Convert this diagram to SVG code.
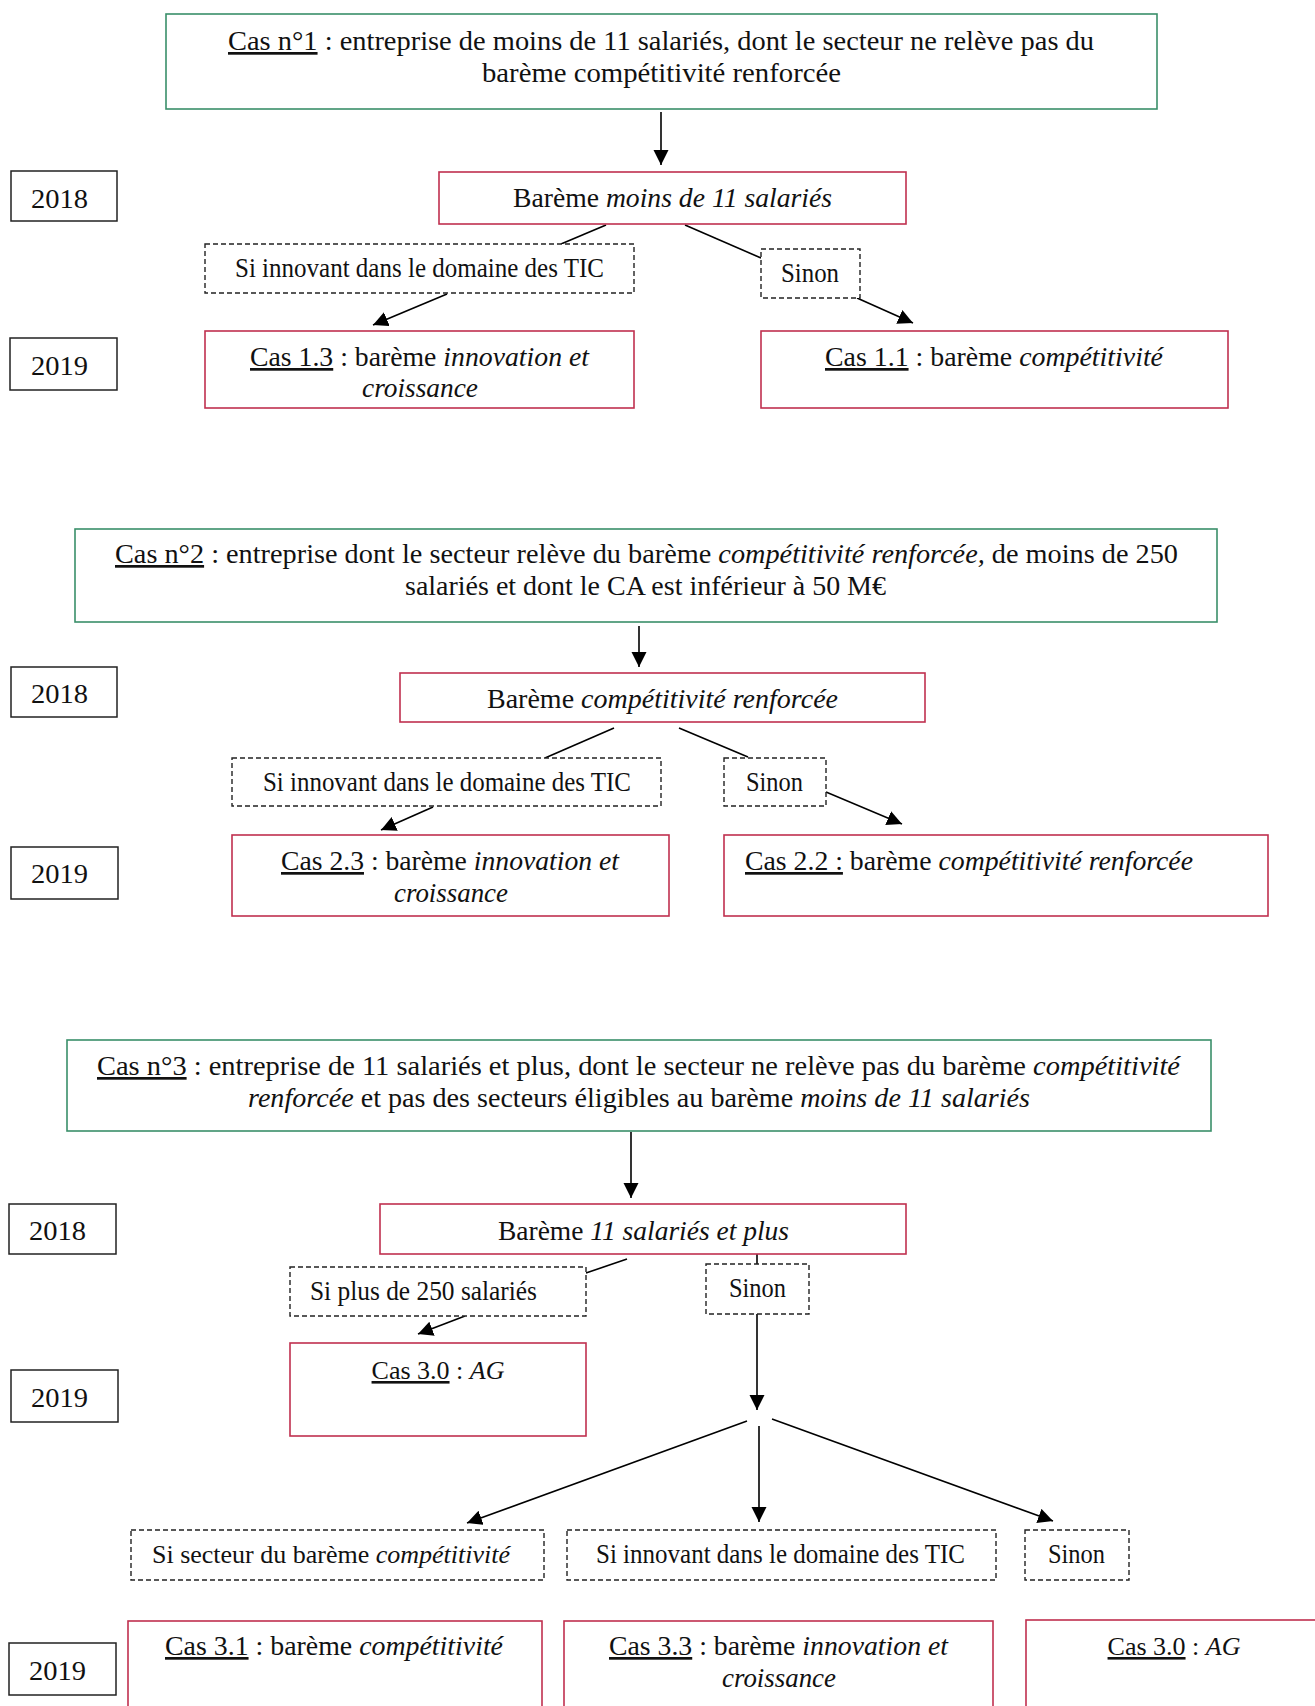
<svg xmlns="http://www.w3.org/2000/svg" width="1315" height="1706" viewBox="0 0 1315 1706">
<style>
text{font-family:"Liberation Serif","Times New Roman",serif;font-size:27px;fill:#111;}
.s{font-size:26px;}
.i{font-style:italic;}
.u{text-decoration:underline;}
.g{fill:#fff;stroke:#3a8f6a;stroke-width:1.6;}
.r{fill:#fff;stroke:#c0304f;stroke-width:1.6;}
.d{fill:#fff;stroke:#222;stroke-width:1.4;stroke-dasharray:5 3;}
.y{fill:#fff;stroke:#222;stroke-width:1.5;}
.c line{stroke:#000;stroke-width:1.6;}
.a{marker-end:url(#ah);}
</style>
<defs>
<marker id="ah" markerUnits="userSpaceOnUse" markerWidth="16" markerHeight="16" viewBox="0 0 16 16" refX="15" refY="7.5" orient="auto">
<path d="M0,0 L15,7.5 L0,15 z" fill="#000"/>
</marker>
</defs>
<rect width="1315" height="1706" fill="#fff"/>

<g class="c" id="connectors">
<line class="a" x1="661" y1="112" x2="661" y2="165"/>
<line x1="606" y1="225" x2="561" y2="244"/>
<line class="a" x1="447" y1="294" x2="373" y2="325"/>
<line x1="685" y1="225" x2="761" y2="258"/>
<line class="a" x1="857" y1="298" x2="913" y2="323"/>
<line class="a" x1="639" y1="626" x2="639" y2="667"/>
<line x1="614" y1="728" x2="545" y2="758"/>
<line class="a" x1="433" y1="807" x2="381" y2="830"/>
<line x1="679" y1="728" x2="748" y2="757"/>
<line class="a" x1="826" y1="792" x2="902" y2="824"/>
<line class="a" x1="631" y1="1132" x2="631" y2="1198"/>
<line x1="627" y1="1259" x2="586" y2="1273"/>
<line class="a" x1="465" y1="1316" x2="418" y2="1334"/>
<line x1="757" y1="1254" x2="757" y2="1264"/>
<line class="a" x1="757" y1="1314" x2="757" y2="1410"/>
<line class="a" x1="747" y1="1421" x2="467" y2="1523"/>
<line class="a" x1="759" y1="1426" x2="759" y2="1522"/>
<line class="a" x1="772" y1="1419" x2="1053" y2="1521"/>
</g>

<g id="cas1">
<rect class="g" x="166" y="14" width="991" height="95"/>
<text x="228" y="50" textLength="866" lengthAdjust="spacingAndGlyphs"><tspan class="u">Cas n°1</tspan> : entreprise de moins de 11 salariés, dont le secteur ne relève pas du</text>
<text x="482" y="82" textLength="359" lengthAdjust="spacingAndGlyphs">barème compétitivité renforcée</text>
</g>
<g id="y2018a"><rect class="y" x="11" y="171" width="106" height="50"/><text x="31" y="208" textLength="57" lengthAdjust="spacingAndGlyphs">2018</text></g>
<g id="bareme1">
<rect class="r" x="439" y="172" width="467" height="52"/>
<text x="513" y="207" textLength="319" lengthAdjust="spacingAndGlyphs">Barème <tspan class="i">moins de 11 salariés</tspan></text>
</g>
<g id="tic1"><rect class="d" x="205" y="244" width="429" height="49"/><text x="235" y="277" textLength="369" lengthAdjust="spacingAndGlyphs">Si innovant dans le domaine des TIC</text></g>
<g id="sinon1"><rect class="d" x="761" y="249" width="99" height="49"/><text x="781" y="282" textLength="58" lengthAdjust="spacingAndGlyphs">Sinon</text></g>
<g id="y2019a"><rect class="y" x="10" y="338" width="107" height="52"/><text x="31" y="375" textLength="57" lengthAdjust="spacingAndGlyphs">2019</text></g>
<g id="cas13">
<rect class="r" x="205" y="331" width="429" height="77"/>
<text x="250" y="366" textLength="339" lengthAdjust="spacingAndGlyphs"><tspan class="u">Cas 1.3</tspan> : barème <tspan class="i">innovation et</tspan></text>
<text class="i" x="362" y="397" textLength="116" lengthAdjust="spacingAndGlyphs">croissance</text>
</g>
<g id="cas11">
<rect class="r" x="761" y="331" width="467" height="77"/>
<text x="825" y="366" textLength="338" lengthAdjust="spacingAndGlyphs"><tspan class="u">Cas 1.1</tspan> : barème <tspan class="i">compétitivité</tspan></text>
</g>

<g id="cas2">
<rect class="g" x="75" y="529" width="1142" height="93"/>
<text x="115" y="563" textLength="1063" lengthAdjust="spacingAndGlyphs"><tspan class="u">Cas n°2</tspan> : entreprise dont le secteur relève du barème <tspan class="i">compétitivité renforcée,</tspan> de moins de 250</text>
<text x="405" y="595" textLength="481" lengthAdjust="spacingAndGlyphs">salariés et dont le CA est inférieur à 50 M€</text>
</g>
<g id="y2018b"><rect class="y" x="11" y="667" width="106" height="50"/><text x="31" y="703" textLength="57" lengthAdjust="spacingAndGlyphs">2018</text></g>
<g id="bareme2">
<rect class="r" x="400" y="673" width="525" height="49"/>
<text x="487" y="708" textLength="351" lengthAdjust="spacingAndGlyphs">Barème <tspan class="i">compétitivité renforcée</tspan></text>
</g>
<g id="tic2"><rect class="d" x="232" y="758" width="429" height="48"/><text x="263" y="791" textLength="368" lengthAdjust="spacingAndGlyphs">Si innovant dans le domaine des TIC</text></g>
<g id="sinon2"><rect class="d" x="724" y="758" width="102" height="48"/><text x="746" y="791" textLength="57" lengthAdjust="spacingAndGlyphs">Sinon</text></g>
<g id="y2019b"><rect class="y" x="11" y="847" width="107" height="52"/><text x="31" y="883" textLength="57" lengthAdjust="spacingAndGlyphs">2019</text></g>
<g id="cas23">
<rect class="r" x="232" y="835" width="437" height="81"/>
<text x="281" y="870" textLength="338" lengthAdjust="spacingAndGlyphs"><tspan class="u">Cas 2.3</tspan> : barème <tspan class="i">innovation et</tspan></text>
<text class="i" x="394" y="902" textLength="114" lengthAdjust="spacingAndGlyphs">croissance</text>
</g>
<g id="cas22">
<rect class="r" x="724" y="835" width="544" height="81"/>
<text x="745" y="870" textLength="448" lengthAdjust="spacingAndGlyphs"><tspan class="u">Cas 2.2 :</tspan> barème <tspan class="i">compétitivité renforcée</tspan></text>
</g>

<g id="cas3">
<rect class="g" x="67" y="1040" width="1144" height="91"/>
<text x="97" y="1075" textLength="1083" lengthAdjust="spacingAndGlyphs"><tspan class="u">Cas n°3</tspan> : entreprise de 11 salariés et plus, dont le secteur ne relève pas du barème <tspan class="i">compétitivité</tspan></text>
<text x="248" y="1107" textLength="782" lengthAdjust="spacingAndGlyphs"><tspan class="i">renforcée</tspan> et pas des secteurs éligibles au barème <tspan class="i">moins de 11 salariés</tspan></text>
</g>
<g id="y2018c"><rect class="y" x="9" y="1204" width="107" height="50"/><text x="29" y="1240" textLength="57" lengthAdjust="spacingAndGlyphs">2018</text></g>
<g id="bareme3">
<rect class="r" x="380" y="1204" width="526" height="50"/>
<text x="498" y="1240" textLength="291" lengthAdjust="spacingAndGlyphs">Barème <tspan class="i">11 salariés et plus</tspan></text>
</g>
<g id="plus250"><rect class="d" x="290" y="1267" width="296" height="49"/><text x="310" y="1300" textLength="227" lengthAdjust="spacingAndGlyphs">Si plus de 250 salariés</text></g>
<g id="sinon3"><rect class="d" x="706" y="1264" width="103" height="50"/><text x="729" y="1297" textLength="57" lengthAdjust="spacingAndGlyphs">Sinon</text></g>
<g id="y2019c"><rect class="y" x="11" y="1370" width="107" height="52"/><text x="31" y="1407" textLength="57" lengthAdjust="spacingAndGlyphs">2019</text></g>
<g id="cas30a">
<rect class="r" x="290" y="1343" width="296" height="93"/>
<text class="s" x="438" y="1379" text-anchor="middle"><tspan class="u">Cas 3.0</tspan> : <tspan class="i">AG</tspan></text>
</g>
<g id="secteur"><rect class="d" x="131" y="1530" width="413" height="50"/><text class="s" x="331" y="1563" text-anchor="middle">Si secteur du barème <tspan class="i">compétitivité</tspan></text></g>
<g id="tic3"><rect class="d" x="567" y="1530" width="429" height="50"/><text x="596" y="1563" textLength="369" lengthAdjust="spacingAndGlyphs">Si innovant dans le domaine des TIC</text></g>
<g id="sinon4"><rect class="d" x="1025" y="1530" width="104" height="50"/><text x="1048" y="1563" textLength="57" lengthAdjust="spacingAndGlyphs">Sinon</text></g>
<g id="y2019d"><rect class="y" x="9" y="1643" width="107" height="52"/><text x="29" y="1680" textLength="57" lengthAdjust="spacingAndGlyphs">2019</text></g>
<g id="cas31">
<rect class="r" x="128" y="1621" width="414" height="110"/>
<text x="165" y="1655" textLength="338" lengthAdjust="spacingAndGlyphs"><tspan class="u">Cas 3.1</tspan> : barème <tspan class="i">compétitivité</tspan></text>
</g>
<g id="cas33">
<rect class="r" x="564" y="1621" width="429" height="110"/>
<text x="609" y="1655" textLength="339" lengthAdjust="spacingAndGlyphs"><tspan class="u">Cas 3.3</tspan> : barème <tspan class="i">innovation et</tspan></text>
<text class="i" x="722" y="1687" textLength="114" lengthAdjust="spacingAndGlyphs">croissance</text>
</g>
<g id="cas30b">
<rect class="r" x="1026" y="1620" width="320" height="110"/>
<text class="s" x="1174" y="1655" text-anchor="middle"><tspan class="u">Cas 3.0</tspan> : <tspan class="i">AG</tspan></text>
</g>
</svg>
